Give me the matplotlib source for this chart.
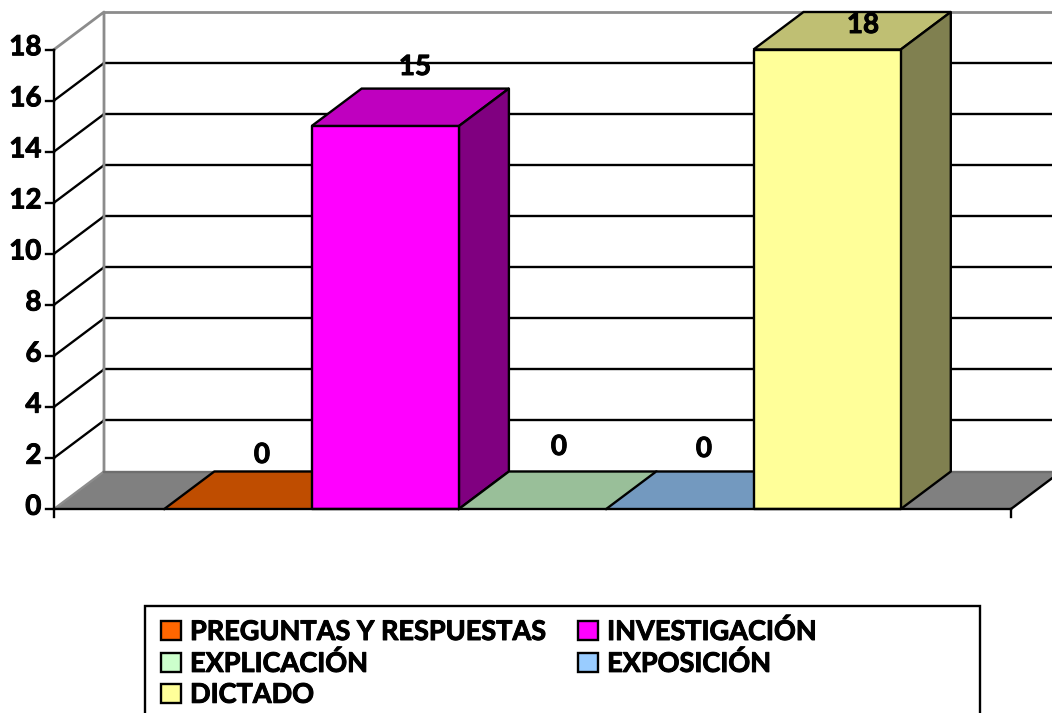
import matplotlib
matplotlib.use("Agg")
import matplotlib.pyplot as plt
import matplotlib.patheffects as pe
from matplotlib.patches import Polygon, Rectangle

categories = ["PREGUNTAS Y RESPUESTAS", "INVESTIGACIÓN", "EXPLICACIÓN", "EXPOSICIÓN", "DICTADO"]
values = [0, 15, 0, 0, 18]
front_colors = ["#FF6600", "#FF00FF", "#CCFFCC", "#99CCFF", "#FFFF99"]
top_colors = ["#BF4D00", "#BF00BF", "#99BF99", "#7399BF", "#BFBF73"]
side_colors = ["#804000", "#800080", "#668066", "#4D6680", "#808050"]
y_ticks = [0, 2, 4, 6, 8, 10, 12, 14, 16, 18]
label_offsets = [(262, 455), (415, 67), (559, 447), (704, 449), (863, 25)]

W, H = 1052, 713
plt.rcParams["font.family"] = ["Lato", "DejaVu Sans"]
plt.rcParams["font.weight"] = "bold"
heavy = [pe.withStroke(linewidth=0.7, foreground="black")]
fig = plt.figure(figsize=(W / 100, H / 100), dpi=100)
L, R, T, B = 54, 1011, 49.5, 509
ax = fig.add_axes([L / W, 1 - B / H, (R - L) / W, (B - T) / H])
bar_px = 147.3
ax.set_xlim(-110.3 / bar_px, (R - L - 110.3) / bar_px)
ax.set_ylim(0, 18)
ax.axis("off")
dx = 50 / bar_px
unit_px = (B - T) / 18
dy = 37.5 / unit_px
x0, x1 = ax.get_xlim()
LW = 1.7
BLK = dict(edgecolor="black", linewidth=LW, joinstyle="round", clip_on=False)

# floor
ax.add_patch(Polygon([(x0, 0), (x1, 0), (x1 + dx, dy), (x0 + dx, dy)], facecolor="#808080",
                     edgecolor="none", clip_on=False, zorder=1))
ax.plot([x0, x0 + dx], [0, dy], color="#8c8c8c", lw=LW, clip_on=False, zorder=1.5)
ax.plot([x0 + dx, x1 + dx], [dy, dy], color="#6e6e6e", lw=LW, clip_on=False, zorder=1.5)
ax.plot([x1, x1 + dx], [0, dy], color="black", lw=LW, clip_on=False, zorder=1.5)

# back wall and grid
for t in y_ticks[1:-1]:
    ax.plot([x0 + dx, x1 + dx], [t + dy, t + dy], color="black", lw=LW, clip_on=False, zorder=1)
    ax.plot([x0, x0 + dx], [t, t + dy], color="black", lw=LW, clip_on=False, zorder=1)
ax.plot([x0, x0 + dx, x0 + dx], [18, 18 + dy, dy], color="#8c8c8c", lw=2.0, clip_on=False, zorder=1.2)
ax.plot([x0 + dx, x1 + dx], [18 + dy, 18 + dy], color="#8c8c8c", lw=2.0, clip_on=False, zorder=1.2)

# axis lines
ax.plot([x0, x0], [-8 / unit_px, 18], color="black", lw=LW, clip_on=False, zorder=5)
ax.plot([x0, x1], [0, 0], color="black", lw=LW, clip_on=False, zorder=5)
ax.plot([x1, x1], [-8 / unit_px, 0], color="black", lw=LW, clip_on=False, zorder=5)
for t in y_ticks:
    ax.plot([x0 - 8 / bar_px, x0], [t, t], color="black", lw=LW, clip_on=False, zorder=5)
    ax.annotate(str(t), xy=(x0 - 12.5 / bar_px, t), xytext=(0, 1.6), textcoords="offset points",
                ha="right", va="center", fontsize=20, fontweight="bold", color="black",
                zorder=6, annotation_clip=False, path_effects=heavy)

# bars
for i, v in enumerate(values):
    z = 2 + 0.1 * i
    ax.add_patch(Polygon([(i, v), (i + 1, v), (i + 1 + dx, v + dy), (i + dx, v + dy)],
                         facecolor=top_colors[i], edgecolor="none" if v == 0 else "black",
                         linewidth=LW, clip_on=False, zorder=z))
    if v == 0:
        ax.plot([i, i + dx, i + 1 + dx], [0, dy, dy], color="black", lw=LW, clip_on=False, zorder=z)
    else:
        ax.add_patch(Polygon([(i + 1, 0), (i + 1 + dx, dy), (i + 1 + dx, v + dy), (i + 1, v)],
                             facecolor=side_colors[i], zorder=z, **BLK))
        ax.add_patch(Rectangle((i, 0), 1, v, facecolor=front_colors[i], zorder=z + 0.05, **BLK))

# value labels
for v, (px, py) in zip(values, label_offsets):
    ax.annotate(str(v), xy=(px / W, 1 - py / H), xycoords="figure fraction", ha="center", va="center",
                fontsize=20, fontweight="bold", color="black", zorder=7, annotation_clip=False,
                path_effects=heavy)

# legend
fig.add_artist(Rectangle((145 / W, -0.02), 835 / W, 1 - 606 / H + 0.02, transform=fig.transFigure,
                         facecolor="white", edgecolor="black", linewidth=LW))
order = [0, 2, 4, 1, 3]
handles = [Rectangle((0, 0), 1, 1, facecolor=front_colors[i], edgecolor="black", linewidth=LW) for i in order]
fs = 19.5
px2fs = 72 / 100 / fs
leg = fig.legend(handles, [categories[i] for i in order], ncol=2, loc="upper left",
                 bbox_to_anchor=(161 / W, 1 - 619 / H), frameon=False, borderpad=0, borderaxespad=0,
                 handlelength=20 * px2fs, handleheight=20 * px2fs, handletextpad=9 * px2fs,
                 columnspacing=32 * px2fs, labelspacing=0.255,
                 prop={"family": "Lato", "weight": "bold", "size": fs})
for txt in leg.get_texts():
    txt.set_path_effects(heavy)
fig.savefig("out.png", dpi=100)
